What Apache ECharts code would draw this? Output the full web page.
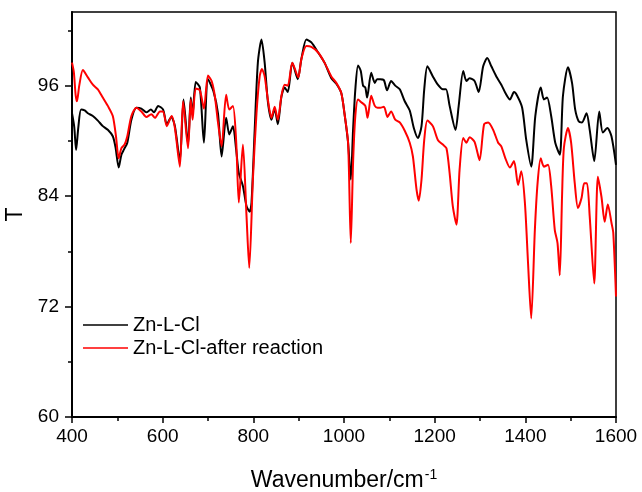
<!DOCTYPE html>
<html>
<head>
<meta charset="utf-8">
<script src="https://cdn.jsdelivr.net/npm/echarts@6/dist/echarts.min.js"></script>
<style>
html,body{margin:0;padding:0;background:#fff;}
#chart{width:642px;height:492px;}
</style>
</head>
<body>
<div id="chart"></div>
<script>
// ---- data ----
const seriesNames = ['Zn-L-Cl', 'Zn-L-Cl-after reaction'];
const xTickValues = [400, 600, 800, 1000, 1200, 1400, 1600];
const yTickValues = [60, 72, 84, 96];
const yMinorTickValues = [66, 78, 90, 102];

const blackWavenumber = [400,405,409,414,420,428,435,446,457,468,479,490,496,503,509,515,522,531,542,553,564,574,581,590,601,609,619,627,638,646,656,662,666,673,682,691,700,712,722,730,740,747,755,762,768,777,785,792,796,803,810,818,825,832,840,847,854,862,869,876,886,898,906,917,928,943,957,972,983,994,1001,1009,1015,1020,1025,1031,1037,1042,1047,1051,1060,1068,1073,1080,1088,1095,1104,1113,1123,1134,1145,1154,1163,1171,1177,1184,1196,1207,1218,1225,1233,1246,1253,1263,1270,1277,1288,1297,1307,1316,1325,1336,1347,1356,1366,1375,1382,1393,1402,1413,1422,1434,1441,1448,1457,1466,1476,1483,1494,1503,1510,1518,1525,1535,1542,1552,1563,1571,1581,1590,1600];
const blackT = [93.0,91.5,89.0,91.5,93.4,93.3,93.0,92.7,92.2,91.6,91.2,90.5,89.3,87.1,88.5,89.1,89.8,92.3,93.6,93.5,93.1,93.4,93.1,93.8,93.4,91.8,92.6,91.6,87.8,94.5,89.6,94.7,92.8,96.4,95.8,89.8,96.7,95.4,93.0,88.3,92.5,90.7,91.6,89.1,86.5,85.1,82.9,82.3,83.3,91.2,98.5,101.0,98.5,94.3,92.3,93.5,91.8,94.8,95.8,95.3,98.5,96.7,98.9,101.0,100.7,99.6,98.5,96.8,96.2,95.2,93.0,89.8,85.8,91.2,95.6,98.2,97.6,96.0,95.8,94.7,97.4,96.3,96.7,96.7,96.6,95.5,96.5,96.0,95.6,94.3,93.3,91.4,90.3,91.6,95.6,98.1,97.0,96.1,95.6,95.6,93.8,91.2,93.8,97.6,96.5,96.8,96.5,95.3,98.1,99.0,98.1,97.0,96.1,95.2,94.5,95.3,94.9,93.6,90.1,87.2,92.7,95.8,94.5,94.7,92.7,89.8,88.5,94.9,98.0,96.3,93.4,92.1,92.0,93.0,91.2,87.8,93.2,90.9,91.4,90.5,87.4];

const redWavenumber = [400,404,408,411,416,424,435,446,457,468,479,490,497,503,509,516,522,531,542,553,564,575,583,594,601,609,620,627,638,645,656,662,666,673,682,691,700,708,715,722,730,740,747,755,762,768,777,785,791,799,807,814,819,825,832,840,847,854,862,869,876,886,899,906,917,928,943,957,972,983,994,1001,1009,1015,1020,1025,1031,1038,1047,1052,1060,1068,1074,1080,1088,1096,1104,1113,1123,1134,1145,1152,1160,1165,1171,1177,1184,1196,1207,1218,1226,1233,1240,1248,1255,1263,1270,1277,1288,1299,1309,1318,1329,1340,1347,1356,1366,1375,1384,1391,1399,1406,1413,1421,1427,1434,1441,1450,1457,1465,1471,1476,1481,1485,1494,1501,1509,1516,1524,1530,1536,1542,1552,1560,1568,1575,1582,1590,1594,1600];
const redT = [98.5,97.5,95.0,94.3,96.0,97.7,96.9,96.1,95.6,94.7,93.8,92.7,90.5,88.1,89.2,89.6,90.5,92.7,93.6,93.2,92.6,92.9,92.5,93.2,93.2,91.6,92.7,91.4,87.2,94.3,89.2,94.5,92.3,95.7,95.5,93.5,97.1,96.5,94.9,92.0,89.4,95.0,93.4,93.8,90.1,83.3,89.6,81.8,76.2,85.8,93.0,97.0,97.8,97.0,94.5,92.5,93.7,92.3,94.9,96.1,96.0,98.5,96.9,98.9,100.3,100.2,99.6,98.5,97.0,96.3,95.2,93.0,89.8,78.9,87.6,92.7,94.5,94.2,93.8,92.5,94.9,93.8,93.6,93.6,93.7,92.6,93.2,92.3,92.0,91.1,89.8,88.3,84.7,83.5,85.8,90.1,92.2,91.6,90.1,89.6,89.2,86.5,82.9,80.9,86.9,90.3,89.8,90.4,89.9,87.9,91.8,92.0,91.2,89.8,89.4,88.1,87.1,87.8,85.2,86.7,83.3,76.7,70.7,80.3,85.4,88.1,87.2,87.4,85.1,80.3,78.9,75.4,84.0,89.2,91.4,89.8,85.4,82.7,83.8,85.4,85.4,81.8,74.5,86.1,83.9,81.2,83.1,81.1,80.0,73.1];

function pairs(xs, ys) { return xs.map((x, i) => [x, ys[i]]); }

const FONT = '"Liberation Sans", Arial, sans-serif';
const chart = echarts.init(document.getElementById('chart'), null, {renderer: 'canvas'});

chart.setOption({
  animation: false,
  backgroundColor: '#fff',
  grid: {
    left: 72, right: 26, top: 12, bottom: 75,
    outerBoundsMode: 'none', containLabel: false,
    show: true, borderColor: '#000', borderWidth: 1.5, backgroundColor: 'transparent'
  },
  legend: {
    orient: 'vertical',
    left: 78, top: 310,
    icon: 'rect', itemWidth: 45, itemHeight: 1.6, itemGap: 3, itemStyle: {borderWidth: 0},
    textStyle: {fontFamily: FONT, fontSize: 20, color: '#000', lineHeight: 20, padding: [0, 0, 0, 0]},
    data: seriesNames
  },
  xAxis: {
    type: 'value', min: 400, max: 1600, interval: 200,
    name: '{a|Wavenumber/cm}{b|-1}',
    nameLocation: 'middle', nameGap: 51,
    nameTextStyle: {
      rich: {
        a: {fontFamily: FONT, fontSize: 23, color: '#000', lineHeight: 26},
        b: {fontFamily: FONT, fontSize: 14, color: '#000', verticalAlign: 'top', lineHeight: 26, padding: [0, 0, 12, 1]}
      }
    },
    axisLine: {lineStyle: {color: '#000', width: 2}},
    axisTick: {show: true, inside: false, length: 6, lineStyle: {color: '#000', width: 1.5}, customValues: xTickValues},
    minorTick: {show: true, splitNumber: 2, length: 4, lineStyle: {color: '#000', width: 1.5}},
    axisLabel: {fontFamily: FONT, fontSize: 19, color: '#000', margin: 10, customValues: xTickValues,
      formatter: v => String(v)},
    splitLine: {show: false}
  },
  yAxis: [{
    type: 'value', min: 60, max: 104, interval: 12, position: 'left',
    name: 'T', nameLocation: 'middle', nameGap: 32, nameRotate: 90,
    nameTextStyle: {fontFamily: FONT, fontSize: 23, color: '#000'},
    axisLine: {show: true, lineStyle: {color: '#000', width: 2}},
    axisTick: {show: true, inside: false, length: 7, lineStyle: {color: '#000', width: 1.5}, customValues: yTickValues},
    axisLabel: {fontFamily: FONT, fontSize: 19, color: '#000', margin: 13, customValues: yTickValues,
      formatter: v => String(v)},
    splitLine: {show: false}
  }, {
    type: 'value', min: 60, max: 104, interval: 6, position: 'left', offset: 0,
    axisLine: {show: false},
    axisTick: {show: true, inside: false, length: 4, lineStyle: {color: '#000', width: 1.5}, customValues: yMinorTickValues},
    axisLabel: {show: false},
    splitLine: {show: false}
  }],
  series: [{
    name: seriesNames[0], type: 'line', yAxisIndex: 0,
    data: pairs(blackWavenumber, blackT),
    showSymbol: false, smooth: 0.25,
    lineStyle: {color: '#000000', width: 2},
    itemStyle: {color: '#000000'}
  }, {
    name: seriesNames[1], type: 'line', yAxisIndex: 0,
    data: pairs(redWavenumber, redT),
    showSymbol: false, smooth: 0.25,
    lineStyle: {color: '#ff0000', width: 2},
    itemStyle: {color: '#ff0000'}
  }]
});
</script>
</body>
</html>
